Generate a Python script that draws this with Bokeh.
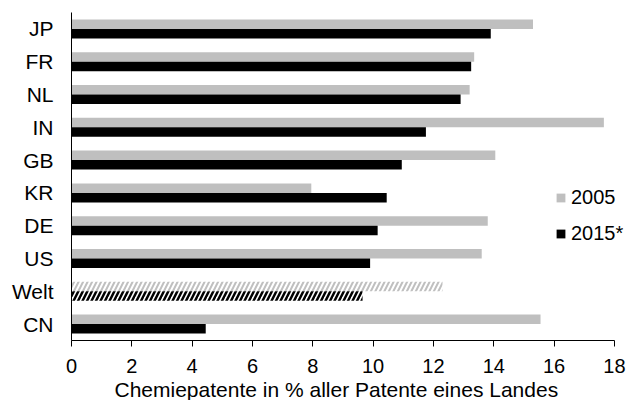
from bokeh.plotting import figure
from bokeh.models import ColumnDataSource, FactorRange, Range1d, FixedTicker, Legend, LegendItem, Title
from bokeh.transform import dodge
from bokeh.embed import file_html
from bokeh.resources import INLINE

countries = ["JP", "FR", "NL", "IN", "GB", "KR", "DE", "US", "Welt", "CN"]
v2005 = [15.3, 13.35, 13.2, 17.65, 14.05, 7.95, 13.8, 13.6, 12.3, 15.55]
v2015 = [13.9, 13.25, 12.9, 11.75, 10.95, 10.45, 10.15, 9.9, 9.65, 4.45]
ticks = [0, 2, 4, 6, 8, 10, 12, 14, 16, 18]
series_labels = ["2005", "2015*"]
x_title = "Chemiepatente in % aller Patente eines Landes"
hatched = ["Welt"]

GRAY = "#bfbfbf"
BLACK = "#000000"
FONT = "Liberation Sans"

src = ColumnDataSource(dict(
    cat=countries,
    v05=v2005,
    v15=v2015,
    fill05=["white" if c in hatched else GRAY for c in countries],
    fill15=["white" if c in hatched else BLACK for c in countries],
    hatch=["/" if c in hatched else " " for c in countries],
))

p = figure(
    width=630, height=400,
    y_range=FactorRange(factors=countries[::-1], range_padding=0),
    x_range=Range1d(0, 18.4),
    output_backend="svg", toolbar_location=None,
    min_border_left=71, min_border_right=4, min_border_top=12, min_border_bottom=59,
)
p.outline_line_color = None
p.background_fill_color = "white"
p.border_fill_color = "white"
p.grid.visible = False

bh = 0.29
r05 = p.hbar(y=dodge("cat", 0.145, range=p.y_range), right="v05", left=0, height=bh,
             source=src, fill_color="fill05", line_color=None,
             hatch_pattern="hatch", hatch_color=GRAY, hatch_weight=2, hatch_scale=9)
r15 = p.hbar(y=dodge("cat", -0.145, range=p.y_range), right="v15", left=0, height=bh,
             source=src, fill_color="fill15", line_color=None,
             hatch_pattern="hatch", hatch_color=BLACK, hatch_weight=2.5, hatch_scale=9)

# axes
xa = p.xaxis[0]
xa.bounds = (0, 18)
xa.ticker = FixedTicker(ticks=ticks)
xa.major_label_text_font = FONT
xa.major_label_text_font_size = "20px"
xa.major_label_text_color = "black"
xa.major_label_text_line_height = 1.0
xa.major_label_standoff = 12
xa.major_tick_out = 6
xa.major_tick_in = 0
xa.minor_tick_out = 0
xa.minor_tick_in = 0
xa.axis_line_color = "black"
xa.major_tick_line_color = "black"

title = Title(text=x_title, align="left", offset=43, standoff=0,
              text_font=FONT, text_font_size="21px", text_font_style="normal",
              text_color="black", text_line_height=1.0)
p.add_layout(title, "below")

ya = p.yaxis[0]
ya.major_label_text_font = FONT
ya.major_label_text_font_size = "21px"
ya.major_label_text_color = "black"
ya.major_label_standoff = 18
ya.major_tick_out = 0
ya.major_tick_in = 0
ya.minor_tick_out = 0
ya.axis_line_color = "black"

legend = Legend(
    items=[LegendItem(label=series_labels[0], renderers=[r05], index=0),
           LegendItem(label=series_labels[1], renderers=[r15], index=0)],
    location=(484, 95),
    glyph_width=11, glyph_height=11,
    label_height=11,
    label_text_font=FONT, label_text_font_size="20px", label_text_color="black",
    label_standoff=5, spacing=13, padding=0, margin=0,
    border_line_color=None, background_fill_alpha=0,
)
p.add_layout(legend)

open("out.html", "w").write(file_html(p, INLINE))
